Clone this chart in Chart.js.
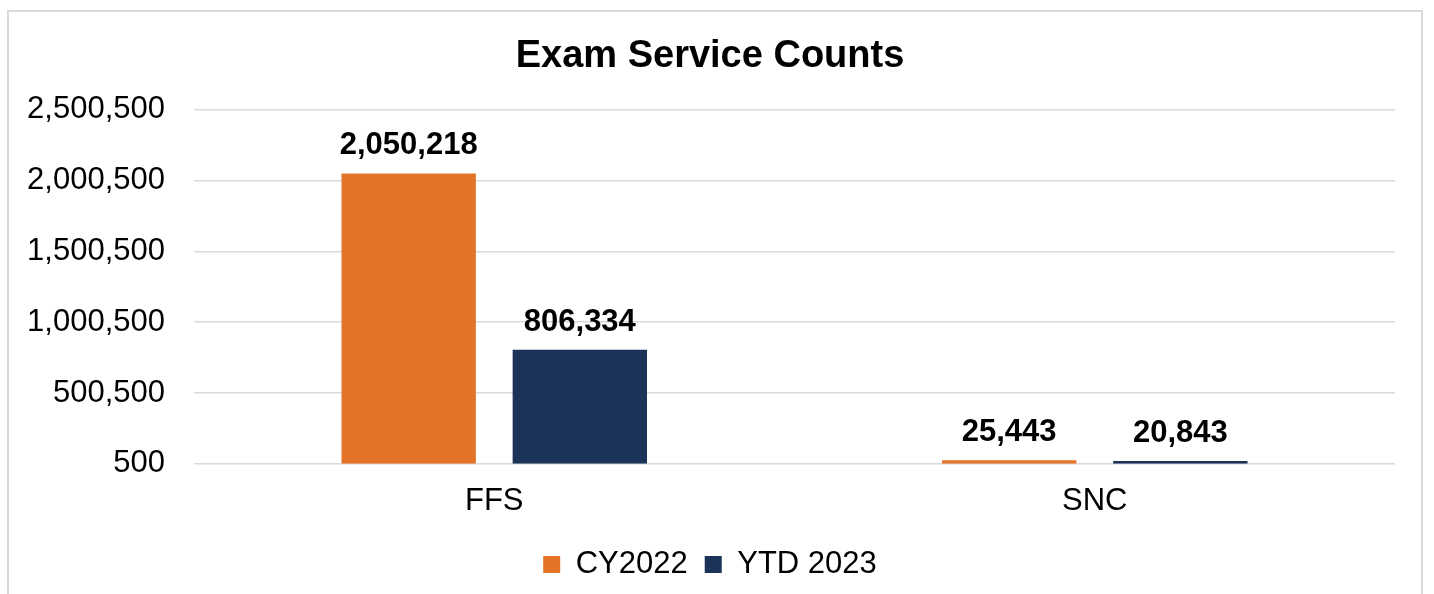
<!DOCTYPE html>
<html>
<head>
<meta charset="utf-8">
<script src="https://cdn.jsdelivr.net/npm/chart.js@4.4.0/dist/chart.umd.min.js"></script>
<style>
    html, body { margin: 0; padding: 0; background: #ffffff; overflow: hidden; }
    #frame {
        position: absolute; left: 7px; top: 10px; width: 1416px; height: 600px;
        border: 2px solid #d9d9d9; box-sizing: border-box;
    }
    #wrap { position: absolute; left: 0; top: 0; width: 1434px; height: 594px; }
</style>
</head>
<body>
<div id="frame"></div>
<div id="wrap"><canvas id="exam-chart"></canvas></div>
<script>
// 資料
const categories = ['FFS', 'SNC'];
const cy2022 = [2050218, 25443];
const ytd2023 = [806334, 20843];
const yTicks = [500, 500500, 1000500, 1500500, 2000500, 2500500];

const FONT = "'Liberation Sans', Arial, sans-serif";

// 在柱子上方畫數值
const valueLabels = {
    id: 'valueLabels',
    afterDatasetsDraw(chart) {
        const ctx = chart.ctx;
        ctx.save();
        ctx.font = 'bold 31px ' + FONT;
        ctx.fillStyle = '#000000';
        ctx.textAlign = 'center';
        ctx.textBaseline = 'alphabetic';
        chart.data.datasets.forEach((ds, i) => {
            chart.getDatasetMeta(i).data.forEach((bar, j) => {
                ctx.fillText(ds.data[j].toLocaleString('en-US'), bar.x, bar.y - 19);
            });
        });
        ctx.restore();
    }
};

function initChart() {
    const ctx = document.getElementById('exam-chart').getContext('2d');
    new Chart(ctx, {
        type: 'bar',
        data: {
            labels: categories,
            datasets: [
                {
                    label: 'CY2022',
                    data: cy2022,
                    backgroundColor: '#E37326',
                    categoryPercentage: 0.57,
                    barPercentage: 0.785
                },
                {
                    label: 'YTD 2023',
                    data: ytd2023,
                    backgroundColor: '#1B3259',
                    categoryPercentage: 0.57,
                    barPercentage: 0.785
                }
            ]
        },
        options: {
            responsive: true,
            maintainAspectRatio: false,
            animation: false,
            layout: {
                padding: { left: 25, right: 39, top: 0, bottom: 4 }
            },
            plugins: {
                title: {
                    display: true,
                    text: 'Exam Service Counts',
                    color: '#000000',
                    font: { family: FONT, size: 38, weight: 'bold' },
                    padding: { top: 34, bottom: 30 }
                },
                legend: {
                    position: 'bottom',
                    labels: {
                        color: '#000000',
                        font: { family: FONT, size: 31 },
                        boxWidth: 17,
                        boxHeight: 17,
                        padding: 17
                    }
                },
                tooltip: { enabled: false }
            },
            scales: {
                x: {
                    grid: { display: false },
                    border: { display: false },
                    ticks: {
                        color: '#000000',
                        font: { family: FONT, size: 31 },
                        padding: 11.5
                    }
                },
                y: {
                    min: yTicks[0],
                    max: yTicks[yTicks.length - 1],
                    afterBuildTicks: axis => {
                        axis.ticks = yTicks.map(v => ({ value: v }));
                    },
                    afterFit: axis => {
                        axis.width = 169;
                    },
                    grid: { color: '#d9d9d9', lineWidth: 1.5, drawTicks: false },
                    border: { display: false },
                    ticks: {
                        color: '#000000',
                        font: { family: FONT, size: 31 },
                        padding: 29,
                        callback: v => v.toLocaleString('en-US')
                    }
                }
            }
        },
        plugins: [valueLabels]
    });
}

document.addEventListener('DOMContentLoaded', () => {
    initChart();
});
</script>
</body>
</html>
